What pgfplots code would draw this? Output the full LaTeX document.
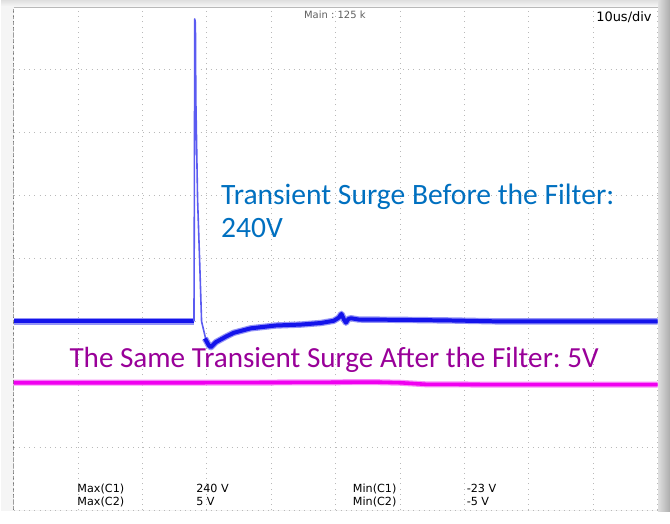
\documentclass[border=0pt]{standalone}
\usepackage{pgfplots}
\pgfplotsset{compat=1.18}
\usepackage{fontspec}
\setmainfont{Carlito}
\newfontfamily\scopefont{DejaVu Sans}
\definecolor{annblue}{RGB}{0,112,192}
\definecolor{annpurple}{RGB}{153,0,153}
\definecolor{trblue}{RGB}{20,20,235}
\definecolor{trmag}{RGB}{240,0,240}
\begin{document}
\frenchspacing
\begin{tikzpicture}[x=1pt,y=1pt]
\fill[gray!8] (0,0) rectangle (335,256);
\shade[left color=gray!25, right color=gray!65] (329,0) rectangle (335,256);
\shade[top color=gray!25, bottom color=gray!8] (0,253) rectangle (329,256);
\begin{axis}[at={(6.25pt,0.5pt)}, anchor=south west, scale only axis,
  width=322.5pt, height=252pt,
  xmin=0, xmax=10, ymin=-3, ymax=5,
  xtick={0,...,10}, ytick={-3,...,5},
  xticklabels={}, yticklabels={}, major tick length=0pt,
  grid=major, grid style={gray!55, line width=0.4pt, dash pattern=on 0.4pt off 2.2pt},
  axis line style={draw=none},
  axis background/.style={fill=white}]
% magenta trace (after filter)
\addplot[trmag!45, line width=3.0pt, line join=round] coordinates {
(0,-0.975) (2.8,-0.975) (4.5,-0.97) (5.6,-0.965) (6.0,-0.975) (6.4,-1.0) (7.5,-1.005) (10,-1.005)};
\addplot[trmag, line width=1.8pt, line join=round] coordinates {
(0,-0.975) (2.8,-0.975) (4.5,-0.97) (5.6,-0.965) (6.0,-0.975) (6.4,-1.0) (7.5,-1.005) (10,-1.005)};
% blue trace: baseline before surge
\addplot[trblue!45, line width=3.2pt] coordinates {(0,0) (2.80,0)};
\addplot[trblue, line width=2.0pt] coordinates {(0,0) (2.80,0)};
% spike (thin)
\addplot[trblue!70, line width=0.8pt, line join=round] coordinates {
(2.80,0) (2.806,2.0) (2.812,4.81) (2.822,4.75) (2.829,3.52) (2.856,1.94) (2.891,0.87) (2.918,0.0) (2.985,-0.29) (3.03,-0.38)};
% recovery (thick)
\addplot[trblue!45, line width=3.2pt, line join=round] coordinates {
(2.97,-0.27) (3.03,-0.38) (3.062,-0.41) (3.14,-0.33) (3.30,-0.24) (3.42,-0.18) (3.68,-0.11) (4.07,-0.065) (4.46,-0.05) (4.77,-0.025) (4.97,0.01) (5.05,0.06) (5.09,0.12) (5.13,0.03) (5.16,-0.02) (5.20,0.04) (5.24,0.05) (5.36,0.03) (6.01,0.025) (6.79,0.015) (7.57,0.0) (10,0.0)};
\addplot[trblue, line width=2.0pt, line join=round] coordinates {
(2.97,-0.27) (3.03,-0.38) (3.062,-0.41) (3.14,-0.33) (3.30,-0.24) (3.42,-0.18) (3.68,-0.11) (4.07,-0.065) (4.46,-0.05) (4.77,-0.025) (4.97,0.01) (5.05,0.06) (5.09,0.12) (5.13,0.03) (5.16,-0.02) (5.20,0.04) (5.24,0.05) (5.36,0.03) (6.01,0.025) (6.79,0.015) (7.57,0.0) (10,0.0)};
\draw[black, line width=0.5pt, dash pattern=on 2pt off 1pt] (rel axis cs:0,0) -- (rel axis cs:0,1);
\draw[gray!55, line width=0.6pt] (rel axis cs:0,1) -- (rel axis cs:1,1);
\end{axis}
\node[anchor=base west, inner sep=0pt, text=annblue, font=\fontsize{14.8}{17}\selectfont] at (110,153.5) {Transient Surge Before the Filter:};
\node[anchor=base west, inner sep=0pt, text=annblue, font=\fontsize{14.8}{17}\selectfont] at (110,137) {240V};
\node[anchor=base west, inner sep=0pt, text=annpurple, font=\fontsize{14.6}{17}\selectfont] at (34,72) {The Same Transient Surge After the Filter: 5V};
\node[anchor=base west, inner sep=0pt, text=gray!75!black, font=\scopefont\fontsize{5}{6}\selectfont] at (151.5,246.5) {Main : 125 k};
\node[anchor=base east, inner sep=0pt, text=black, font=\scopefont\fontsize{6.5}{7}\selectfont] at (326,245) {10us/div};
\begin{scope}[font=\scopefont\fontsize{5.6}{6}\selectfont]
\node[anchor=base west, inner sep=0pt] at (38,9.5) {Max(C1)};
\node[anchor=base west, inner sep=0pt] at (38,3) {Max(C2)};
\node[anchor=base west, inner sep=0pt] at (97.5,9.5) {240 V};
\node[anchor=base west, inner sep=0pt] at (97.5,3) {5 V};
\node[anchor=base west, inner sep=0pt] at (176,9.5) {Min(C1)};
\node[anchor=base west, inner sep=0pt] at (176,3) {Min(C2)};
\node[anchor=base west, inner sep=0pt] at (233,9.5) {-23 V};
\node[anchor=base west, inner sep=0pt] at (233,3) {-5 V};
\end{scope}
\end{tikzpicture}
\end{document}
